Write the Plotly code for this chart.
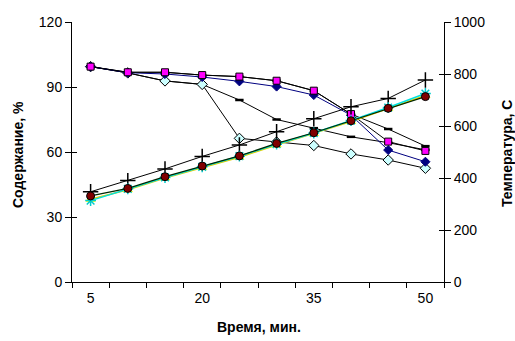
import plotly.graph_objects as go

time = [5, 10, 15, 20, 25, 30, 35, 40, 45, 50]
x_labels = ["5", "20", "35", "50"]
x_label_vals = [5, 20, 35, 50]

# Содержание, % (left axis)
navy = [99.4, 96.6, 96.0, 94.6, 92.6, 90.2, 86.3, 77.0, 60.9, 55.5]
square = [99.4, 96.8, 96.8, 95.5, 94.8, 92.9, 88.3, 77.5, 64.8, 60.5]
cyan_d = [99.4, 96.5, 92.8, 91.2, 66.3, 64.6, 63.0, 59.1, 56.3, 52.5]
dash1 = [99.4, 96.5, 92.8, 91.2, 84.0, 75.0, 71.0, 67.0, 64.3, 61.0]
dash2 = [99.4, 96.8, 96.8, 95.5, 94.8, 92.9, 88.3, 77.5, 70.6, 62.7]

# Температура, C (right axis)
plus = [347, 390, 435, 483, 527, 578, 628, 674, 706, 777]
tri = [318, 355, 400, 440, 480, 527, 571, 617, 667, 717]
xm = [313, 358, 402, 443, 484, 530, 573, 621, 671, 725]
circle = [331, 360, 405, 446, 485, 533, 574, 620, 668, 713]

left_ticks = [0, 30, 60, 90, 120]
right_ticks = [0, 200, 400, 600, 800, 1000]
boundaries = [2.5 + 5 * i for i in range(11)]

x_title = "Время, мин."
y_title = "Содержание, %"
y2_title = "Температура, С"

FONT = "Liberation Sans, Arial, sans-serif"
fig = go.Figure()

def add(y, axis, line, marker):
    fig.add_trace(go.Scatter(x=time, y=y, yaxis=axis, mode="lines+markers",
                             line=line, marker=marker, showlegend=False,
                             hoverinfo="x+y"))

# temperature bundle
add(plus, "y2", dict(color="black", width=1),
    dict(symbol="cross-thin", size=11, line=dict(color="black", width=1.5)))
add(tri, "y2", dict(color="#E0D000", width=1.5),
    dict(symbol="triangle-up", size=8, color="#FFFF00", line=dict(color="#FFFF00", width=1)))
add(xm, "y2", dict(color="#00E0E0", width=1.5),
    dict(symbol="asterisk", size=9, line=dict(color="#00CCCC", width=1.5)))
add(circle, "y2", dict(color="#002800", width=1.2),
    dict(symbol="circle", size=8, color="#800000", line=dict(color="black", width=1)))

# content series
add(dash1, "y", dict(color="black", width=1),
    dict(symbol="line-ew", size=6, line=dict(color="black", width=2.5)))
add(dash2, "y", dict(color="black", width=1),
    dict(symbol="line-ew", size=6, line=dict(color="black", width=2.5)))
add(cyan_d, "y", dict(color="black", width=1),
    dict(symbol="diamond", size=8, color="#CCFFFF", line=dict(color="black", width=1)))
add(navy, "y", dict(color="#000080", width=1),
    dict(symbol="diamond", size=7, color="#000080", line=dict(color="#000080", width=1)))
add(square, "y", dict(color="black", width=1),
    dict(symbol="square", size=7, color="#FF00FF", line=dict(color="black", width=1)))

tickfont = dict(family=FONT, size=14, color="black")
titlefont = dict(family=FONT, size=14, color="black", weight="bold")

L, R, T, B, W, H = 72, 71, 22, 59, 515, 341
pw, ph = W - L - R, H - T - B

fig.update_layout(
    width=W, height=H,
    margin=dict(l=L, r=R, t=T, b=B, autoexpand=False),
    paper_bgcolor="white", plot_bgcolor="white",
    font=dict(family=FONT, color="black"),
    xaxis=dict(range=[2.5, 52.5], tickvals=x_label_vals, ticktext=x_labels,
               ticks="", showgrid=False, zeroline=False, showline=True,
               linecolor="black", linewidth=1, tickfont=tickfont,
               ticklabelstandoff=3),
    xaxis2=dict(range=[2.5, 52.5], overlaying="x", anchor="y", side="bottom",
                tickvals=boundaries, ticks="outside", ticklen=5, tickcolor="black",
                showticklabels=False, showgrid=False, zeroline=False, showline=False),
    yaxis=dict(range=[0, 120], tickvals=left_ticks, ticks="outside", ticklen=6,
               tickcolor="black", showgrid=False, zeroline=False, showline=True,
               linecolor="black", linewidth=1, tickfont=tickfont),
    yaxis2=dict(range=[0, 1000], tickvals=right_ticks, overlaying="y", side="right",
                anchor="x", ticks="outside", ticklen=6, tickcolor="black",
                showgrid=False, zeroline=False, showline=True, linecolor="black",
                linewidth=1, tickfont=tickfont),
    yaxis3=dict(range=[0, 120], tickvals=left_ticks, overlaying="y", side="left",
                anchor="x", ticks="inside", ticklen=5, tickcolor="black",
                showticklabels=False, showgrid=False, zeroline=False, showline=False),
    yaxis4=dict(range=[0, 1000], tickvals=right_ticks, overlaying="y", side="right",
                anchor="x", ticks="inside", ticklen=5, tickcolor="black",
                showticklabels=False, showgrid=False, zeroline=False, showline=False),
    annotations=[
        dict(text=x_title, xref="paper", yref="paper", x=(259 - L) / pw,
             y=(H - B - 327) / ph, showarrow=False, font=titlefont,
             xanchor="center", yanchor="middle"),
        dict(text=y_title, xref="paper", yref="paper", x=(18 - L) / pw,
             y=(H - B - 154) / ph, showarrow=False, font=titlefont, textangle=-90,
             xanchor="center", yanchor="middle"),
        dict(text=y2_title, xref="paper", yref="paper", x=(507 - L) / pw,
             y=(H - B - 154) / ph, showarrow=False, font=titlefont, textangle=-90,
             xanchor="center", yanchor="middle"),
    ],
)

# invisible traces to activate helper axes
fig.add_trace(go.Scatter(x=[None], y=[None], xaxis="x2", yaxis="y3", showlegend=False))
fig.add_trace(go.Scatter(x=[None], y=[None], yaxis="y4", showlegend=False))

fig.write_html("out.html", config={"displayModeBar": False},
               post_script="document.body.style.margin='0';document.body.style.overflow='hidden';")
